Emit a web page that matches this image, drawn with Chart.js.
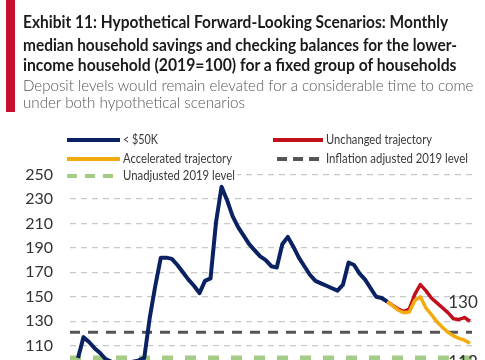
<!DOCTYPE html>
<html><head><meta charset="utf-8">
<script src="https://cdn.jsdelivr.net/npm/chart.js@4.4.0/dist/chart.umd.min.js"></script>
<style>
html,body{margin:0;padding:0;background:#fff;width:485px;height:360px;overflow:hidden;}
#wrap{position:absolute;left:0;top:0;width:485px;height:360px;}
#bar{position:absolute;left:6px;top:0;width:9px;height:112px;background:#c8102e;}
.t{position:absolute;left:23px;white-space:nowrap;transform-origin:0 50%;line-height:20px;}
.h{font-family:Lato,"Open Sans",sans-serif;font-weight:700;font-size:16.5px;color:#1b1b1b;}
.s{font-family:Lato,"Open Sans",sans-serif;font-weight:300;font-size:16px;color:#555;}
</style></head>
<body>
<div id="wrap"><canvas id="c" width="485" height="360"></canvas></div>
<div id="bar"></div>
<div class="t h" data-w="425" style="top:12px">Exhibit 11: Hypothetical Forward-Looking Scenarios: Monthly</div>
<div class="t h" data-w="434" style="top:35px">median household savings and checking balances for the lower-</div>
<div class="t h" data-w="434" style="top:55px">income household (2019=100) for a fixed group of households</div>
<div class="t s" data-w="450" style="top:75px">Deposit levels would remain elevated for a considerable time to come</div>
<div class="t s" data-w="222" style="top:92px">under both hypothetical scenarios</div>
<script>
// ---- data ----
const MONTHS = ["Jan-19","Feb-19","Mar-19","Apr-19","May-19","Jun-19","Jul-19","Aug-19","Sep-19","Oct-19","Nov-19","Dec-19",
"Jan-20","Feb-20","Mar-20","Apr-20","May-20","Jun-20","Jul-20","Aug-20","Sep-20","Oct-20","Nov-20","Dec-20",
"Jan-21","Feb-21","Mar-21","Apr-21","May-21","Jun-21","Jul-21","Aug-21","Sep-21","Oct-21","Nov-21","Dec-21",
"Jan-22","Feb-22","Mar-22","Apr-22","May-22","Jun-22","Jul-22","Aug-22","Sep-22","Oct-22","Nov-22","Dec-22",
"Jan-23","Feb-23","Mar-23","Apr-23","May-23","Jun-23","Jul-23","Aug-23","Sep-23","Oct-23","Nov-23","Dec-23",
"Jan-24","Feb-24","Mar-24","Apr-24","May-24","Jun-24","Jul-24","Aug-24","Sep-24","Oct-24","Nov-24","Dec-24"];
const LOW_INCOME = [100,117,113,108,104,99,97,96,96,96,97,98,
100,133,159,182,182,181,176,170,164,159,153,163,
165,211,240,229,216,207,200,193,188,183,180,175,
174,193,199,191,182,175,168,163,161,159,157,155,
160,178,176,169,164,157,150,149,146];
const PROJ_START = "Sep-23";
const UNCHANGED = [146,143,140,138,140,152,160,155,149,145,141,137,132,131.5,133,130];
const ACCELERATED = [146,142.5,139,137,137.5,147,150,141,135.5,129.5,125,121,118,116,114.5,112];
const INFLATION_ADJ_2019 = 121;
const UNADJUSTED_2019 = 100;
const Y_TICKS = [110,130,150,170,190,210,230,250];
const LABELS = ["< $50K","Unchanged trajectory","Accelerated trajectory","Inflation adjusted 2019 level","Unadjusted 2019 level"];

// ---- build ----
const X_MIN = -1.449, X_MAX = 71.36;
const p0 = MONTHS.indexOf(PROJ_START);
const pts = (arr, off) => arr.map((v,i)=>({x:i+off,y:v}));
const flat = v => [{x:X_MIN,y:v},{x:X_MAX,y:v}];

const NAVY='#0b2262', RED='#c0101c', ORANGE='#f2ab0c', GRAY='#555555', GREEN='#a4cc86';

const legendItems = [
  {t:LABELS[0], c:NAVY, d:[], x:67, y:140, len:53, w:35},
  {t:LABELS[1], c:RED, d:[], x:273, y:140, len:50, w:106},
  {t:LABELS[2], c:ORANGE, d:[], x:67, y:159, len:53, w:109},
  {t:LABELS[3], c:GRAY, d:[10,6], x:277, y:159, len:46, w:142},
  {t:LABELS[4], c:GREEN, d:[10,8], x:67, y:176, len:53, w:112, bg:true}
];

const legendPlugin = {
  id:'customLegend',
  beforeDatasetsDraw(chart){
    const ctx = chart.ctx;
    ctx.save();
    legendItems.forEach(it=>{
      ctx.font = '13px Lato, "Open Sans", sans-serif';
      const mw = ctx.measureText(it.t).width;
      const sx = it.w / mw;
      if (it.bg){ ctx.fillStyle='#fff'; ctx.fillRect(it.x-4, it.y-8, it.len+3+it.w+6, 16); }
      ctx.beginPath(); ctx.setLineDash(it.d); ctx.lineWidth=4; ctx.strokeStyle=it.c; ctx.lineCap='butt';
      ctx.moveTo(it.x, it.y); ctx.lineTo(it.x+it.len, it.y); ctx.stroke();
      ctx.setLineDash([]);
      ctx.fillStyle='#3a3a3a'; ctx.textBaseline='middle'; ctx.textAlign='left';
      ctx.save(); ctx.translate(it.x+it.len+3, it.y); ctx.scale(sx,1); ctx.fillText(it.t,0,0); ctx.restore();
    });
    ctx.restore();
  },
  afterDatasetsDraw(chart){
    const ctx = chart.ctx;
    ctx.save();
    ctx.font = '17px Lato, "Open Sans", sans-serif';
    ctx.fillStyle = '#333'; ctx.textAlign='center'; ctx.textBaseline='middle';
    const r = chart.getDatasetMeta(1).data, o = chart.getDatasetMeta(2).data;
    const lr = r[r.length-1], lo = o[o.length-1];
    ctx.fillText(String(Math.round(UNCHANGED[UNCHANGED.length-1])), lr.x-7, lr.y-19);
    ctx.fillText(String(Math.round(ACCELERATED[ACCELERATED.length-1])), lo.x-7, lo.y+19);
    ctx.restore();
  }
};

new Chart(document.getElementById('c'), {
  type:'line',
  data:{datasets:[
    {label:LABELS[0], data:pts(LOW_INCOME,0), borderColor:NAVY, borderWidth:4, order:1},
    {label:LABELS[1], data:pts(UNCHANGED,p0), borderColor:RED, borderWidth:3.5, order:3},
    {label:LABELS[2], data:pts(ACCELERATED,p0), borderColor:ORANGE, borderWidth:3.5, order:2},
    {label:LABELS[3], data:flat(INFLATION_ADJ_2019), borderColor:GRAY, borderWidth:3, borderDash:[10,8], order:5},
    {label:LABELS[4], data:flat(UNADJUSTED_2019), borderColor:GREEN, borderWidth:5, borderDash:[11,12], order:4}
  ]},
  options:{
    responsive:false, animation:false,
    layout:{padding:{left:0,right:13,top:174.5,bottom:0}},
    elements:{point:{radius:0}, line:{tension:0, borderJoinStyle:'round', borderCapStyle:'butt'}},
    plugins:{legend:{display:false}, tooltip:{enabled:false}},
    scales:{
      x:{type:'linear', display:false, min:X_MIN, max:X_MAX},
      y:{min:98.3, max:250,
        afterBuildTicks:s=>{ s.ticks = Y_TICKS.map(v=>({value:v})); },
        afterFit:s=>{ s.width=70; s.paddingTop=0; s.paddingBottom=0; },
        border:{display:false, dash:[6,5]},
        grid:{color:'#c8c8c8', lineWidth:1.3, drawTicks:false},
        ticks:{padding:17, color:'#333', font:{family:'Lato, "Open Sans", sans-serif', size:16}}
      }
    }
  },
  plugins:[legendPlugin]
});

// fit title lines to measured widths
document.querySelectorAll('.t').forEach(el=>{
  const w = el.offsetWidth, tw = +el.dataset.w;
  el.style.transform = 'scaleX(' + (tw / w).toFixed(4) + ')';
});
</script>
</body></html>
